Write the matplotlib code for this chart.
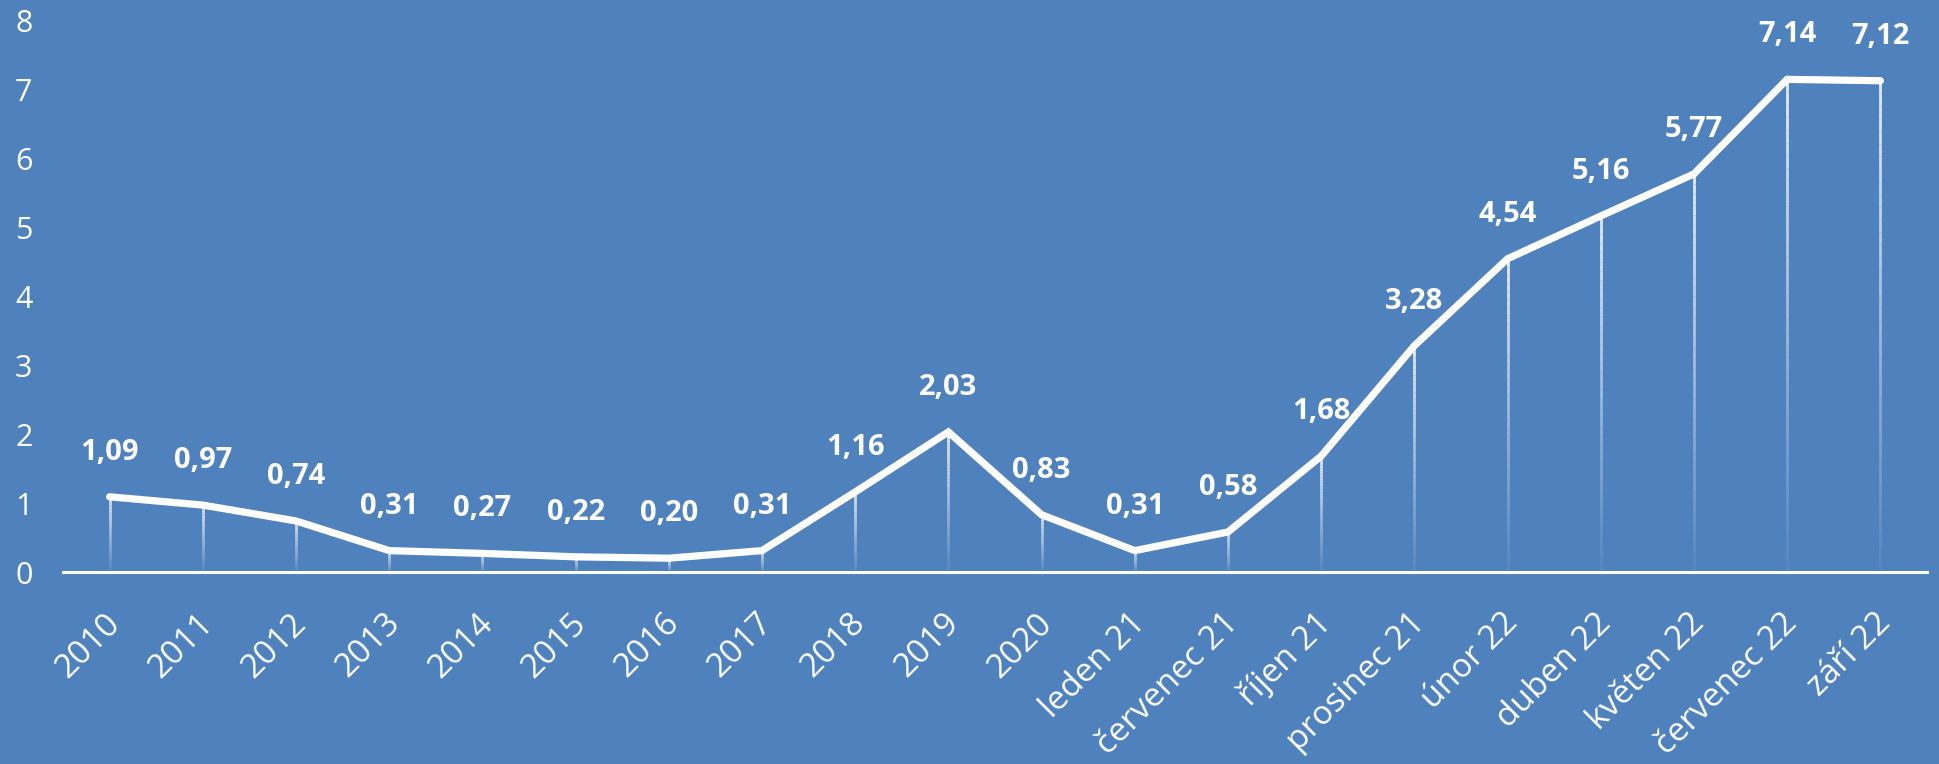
import matplotlib
matplotlib.use("Agg")
import matplotlib.pyplot as plt
import matplotlib.transforms as mtransforms
import numpy as np
from matplotlib.collections import LineCollection

# data
categories = ["2010", "2011", "2012", "2013", "2014", "2015", "2016", "2017",
              "2018", "2019", "2020", "leden 21", "červenec 21", "říjen 21",
              "prosinec 21", "únor 22", "duben 22", "květen 22",
              "červenec 22", "září 22"]
values = [1.09, 0.97, 0.74, 0.31, 0.27, 0.22, 0.20, 0.31, 1.16, 2.03,
          0.83, 0.31, 0.58, 1.68, 3.28, 4.54, 5.16, 5.77, 7.14, 7.12]
y_ticks = [0, 1, 2, 3, 4, 5, 6, 7, 8]

bg = "#4f81bd"
plt.rcParams['font.family'] = ['Open Sans', 'DejaVu Sans']

fig = plt.figure(figsize=(19.39, 7.64), dpi=100, facecolor=bg)
ax = fig.add_axes([0.0325, 0.2513, 0.9613, 0.7225], facecolor=bg)

x = np.arange(len(values))

# drop lines, fading towards the axis
for xi, v in zip(x, values):
    ys = np.linspace(0, v, 40)
    segs = [[(xi, ys[i]), (xi, ys[i + 1])] for i in range(len(ys) - 1)]
    alphas = np.linspace(0.05, 0.85, len(segs))
    cols = [(1, 1, 1, a) for a in alphas]
    ax.add_collection(LineCollection(segs, colors=cols, linewidths=2, zorder=2))

ax.plot(x, values, color="white", lw=5.2, solid_capstyle="round",
        solid_joinstyle="miter", zorder=3)

for xi, v in zip(x, values):
    ax.annotate(f"{v:.2f}".replace(".", ","), (xi, v), xytext=(0, 32),
                textcoords="offset points", ha="center", va="center",
                color="white", fontsize=21, fontweight="bold", zorder=4)

ax.set_xlim(-0.5, len(values) - 0.5)
ax.set_ylim(0, 8)
ax.set_yticks(y_ticks)
ax.set_xticks(x)
ax.set_xticklabels(categories, rotation=45, ha="right", rotation_mode="anchor",
                   fontsize=24, color="white")
ax.tick_params(axis="x", length=0, pad=25)
ax.tick_params(axis="y", length=0, pad=22, labelsize=22, labelcolor="white")

# nudge the rotated labels a little to the left
shift = mtransforms.ScaledTranslation(-6 / 100, 0, fig.dpi_scale_trans)
for lbl in ax.get_xticklabels():
    lbl.set_transform(lbl.get_transform() + shift)

for s in ["top", "right", "left"]:
    ax.spines[s].set_visible(False)
ax.spines["bottom"].set_color("white")
ax.spines["bottom"].set_linewidth(2.2)
ax.spines["bottom"].set_zorder(5)

fig.savefig("out.png", dpi=100, facecolor=bg)
